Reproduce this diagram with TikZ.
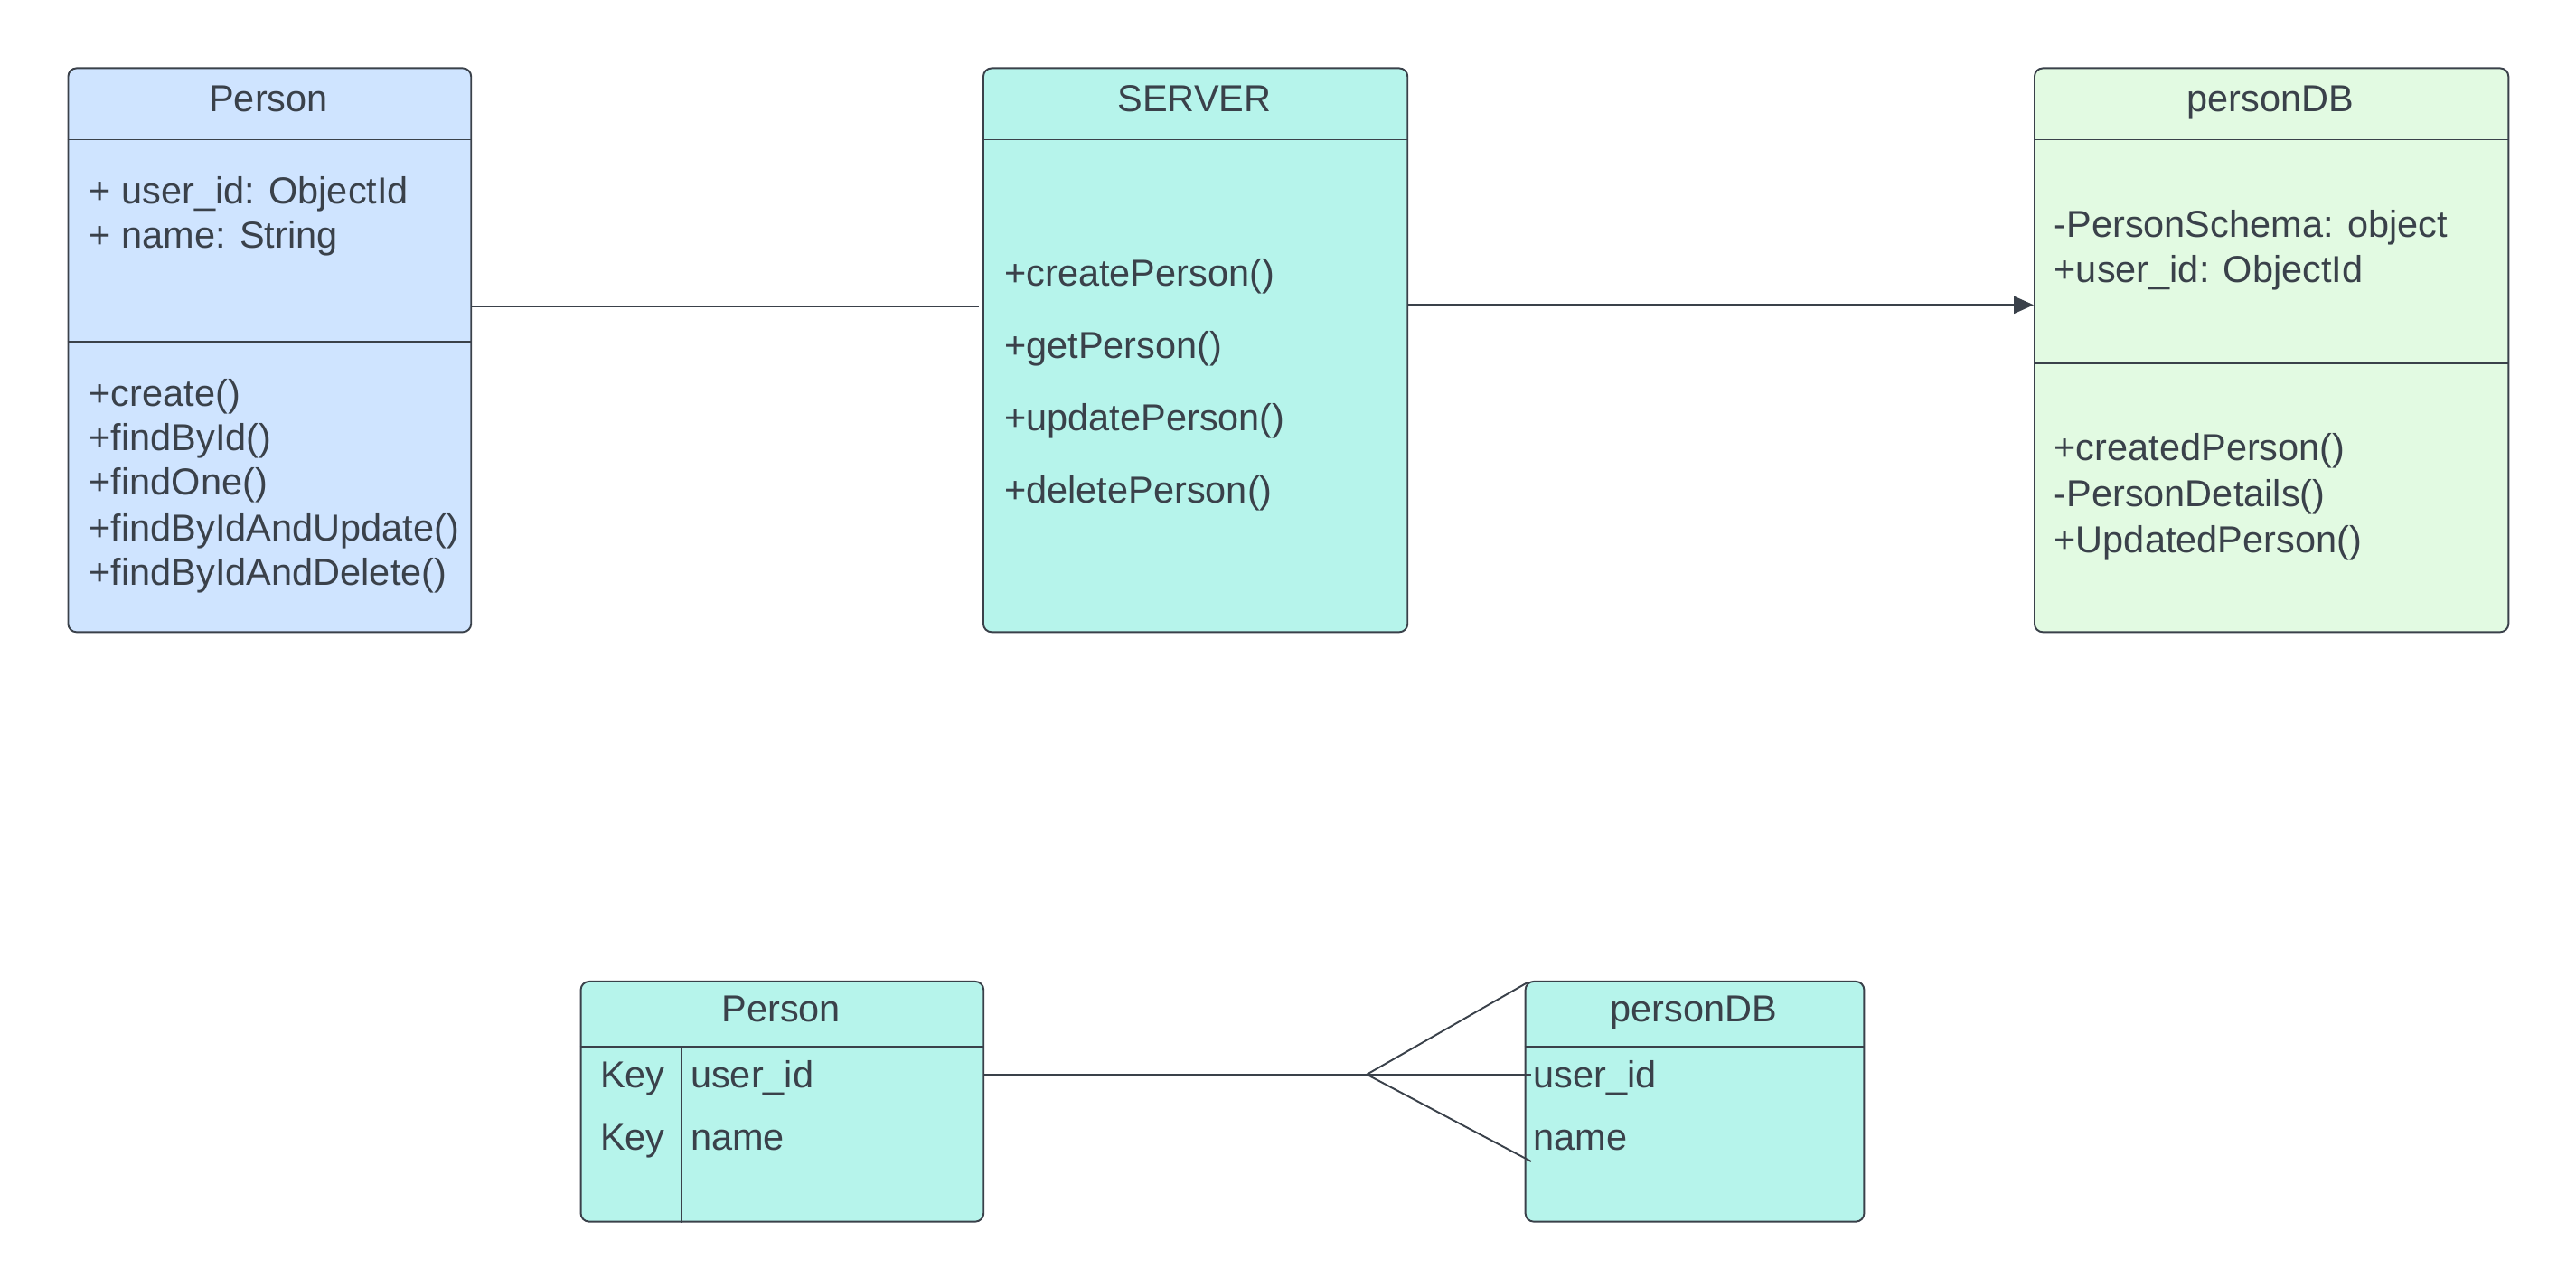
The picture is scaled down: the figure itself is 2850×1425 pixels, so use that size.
\documentclass[tikz,border=0pt]{standalone}
\usepackage{fontspec}
\setmainfont{Liberation Sans}
\usetikzlibrary{arrows.meta}
\definecolor{ink}{HTML}{3A414A}
\definecolor{bluefill}{HTML}{CFE4FF}
\definecolor{tealfill}{HTML}{B6F4EB}
\definecolor{greenfill}{HTML}{E2FAE2}

\begin{document}
\begin{tikzpicture}[x=0.01cm,y=-0.01cm,
  box/.style={draw=ink, line width=0.55pt, rounded corners=2.6pt, anchor=north west, inner sep=0pt},
  lbl/.style={text=ink, font=\fontsize{11.8}{14}\selectfont, inner sep=0pt, text height=8.5pt, text depth=0pt},
  item/.style={lbl, anchor=west},
  title/.style={lbl, anchor=center},
  rule/.style={draw=ink, line width=0.5pt},
  link/.style={draw=ink, line width=0.55pt}
]
\useasboundingbox[fill=white] (0,0) rectangle (2850,1425);

% ---------- class boxes ----------
\node[box, fill=bluefill,  minimum width=4.455cm, minimum height=6.235cm] (person) at (74.5,74.5) {};
\node[box, fill=tealfill,  minimum width=4.69cm,  minimum height=6.235cm] (server) at (1087,74.5) {};
\node[box, fill=greenfill, minimum width=5.24cm,  minimum height=6.235cm] (db)     at (2250,74.5) {};

% compartment rules
\draw[rule] ([yshift=-0.8cm]person.north west) -- ([yshift=-0.8cm]person.north east);
\draw[rule] ([yshift=-3.035cm]person.north west) -- ([yshift=-3.035cm]person.north east);
\draw[rule] ([yshift=-0.8cm]server.north west) -- ([yshift=-0.8cm]server.north east);
\draw[rule] ([yshift=-0.8cm]db.north west) -- ([yshift=-0.8cm]db.north east);
\draw[rule] ([yshift=-3.272cm]db.north west) -- ([yshift=-3.272cm]db.north east);

% Person class
\node[title] (person-t) at (297,109) {Person};
\node[item] (person-a1) at (98,210.8) {+ user\_id: ObjectId};
\node[item] (person-a2) at (98,260) {+ name: String};
\node[item] (person-m1) at (98,434.4) {+create()};
\node[item] (person-m2) at (98,483.5) {+findById()};
\node[item] (person-m3) at (98,532.6) {+findOne()};
\node[item] (person-m4) at (98,583.5) {+findByIdAndUpdate()};
\node[item] (person-m5) at (98,632.5) {+findByIdAndDelete()};

% SERVER class
\node[title] (server-t) at (1321.5,109) {SERVER};
\node[item] (server-m1) at (1110.6,301.7) {+createPerson()};
\node[item] (server-m2) at (1110.6,381.7) {+getPerson()};
\node[item] (server-m3) at (1110.6,461.7) {+updatePerson()};
\node[item] (server-m4) at (1110.6,541.6) {+deletePerson()};

% personDB class
\node[title] (db-t) at (2512,109) {personDB};
\node[item] (db-a1) at (2272,247.2) {-PersonSchema: object};
\node[item] (db-a2) at (2272,298) {+user\_id: ObjectId};
\node[item] (db-m1) at (2272,494.4) {+createdPerson()};
\node[item] (db-m2) at (2272,545.3) {-PersonDetails()};
\node[item] (db-m3) at (2272,596.2) {+UpdatedPerson()};

% class connectors
\draw[link] ([yshift=0.48cm]person.east) -- ([yshift=0.48cm,xshift=-0.04cm]server.west);
\draw[link, -{Triangle[length=6.2pt,width=5.4pt]}] ([yshift=0.5cm]server.east) -- ([yshift=0.5cm]db.west);

% ---------- entity tables ----------
\node[box, fill=tealfill, minimum width=4.454cm, minimum height=2.655cm] (eperson) at (641.6,1085) {};
\node[box, fill=tealfill, minimum width=3.745cm, minimum height=2.655cm] (edb)     at (1686.7,1085) {};

\draw[rule] ([yshift=-0.73cm]eperson.north west) -- ([yshift=-0.73cm]eperson.north east);
\draw[rule] ([yshift=-0.73cm,xshift=1.127cm]eperson.north west) -- ([xshift=1.127cm]eperson.south west);
\draw[rule] ([yshift=-0.73cm]edb.north west) -- ([yshift=-0.73cm]edb.north east);

\node[title] (eperson-t) at (864.3,1116) {Person};
\node[item] (eperson-k1) at (663.4,1188.7) {Key};
\node[item] (eperson-k2) at (663.4,1257.8) {Key};
\node[item] (eperson-f1) at (763.4,1188.7) {user\_id};
\node[item] (eperson-f2) at (763.4,1257.8) {name};

\node[title] (edb-t) at (1874,1116) {personDB};
\node[item] (edb-f1) at (1696,1188.7) {user\_id};
\node[item] (edb-f2) at (1696,1257.8) {name};

% one-to-many connector with crow's foot
\draw[link] ([yshift=0.3cm]eperson.east) -- ++(423,0) coordinate (crow);
\coordinate (crow-top) at (1690,1087);
\coordinate (crow-low) at (1694,1285);
\draw[link] (crow) -- (crow-top);
\draw[link] (crow) -- (crow -| edb.west) -- ++(7,0) coordinate (crow-mid);
\draw[link] (crow) -- (crow-low);
\end{tikzpicture}
\end{document}
